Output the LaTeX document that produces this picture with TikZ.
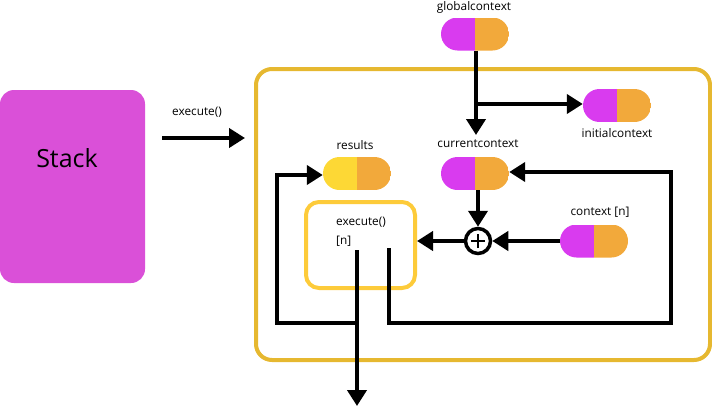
\documentclass[tikz,border=0pt]{standalone}
\usepackage{fontspec}
\setmainfont{Open Sans}
\usetikzlibrary{arrows.meta}
\definecolor{mag}{HTML}{D93BEF}
\definecolor{org}{HTML}{F2A93B}
\definecolor{yel}{HTML}{FDD835}
\definecolor{stackc}{HTML}{DA50D8}
\definecolor{gold}{HTML}{E6B830}
\definecolor{exyel}{HTML}{FDCB3A}
\tikzset{
  pill/.style={minimum width=68pt, minimum height=33pt, inner sep=0pt,
    rounded corners=16.5pt,
    path picture={
      \fill[#1, sharp corners] (path picture bounding box.south west) rectangle (path picture bounding box.north);
      \fill[org, sharp corners] (path picture bounding box.south) rectangle (path picture bounding box.north east);
    }},
  lbl/.style={font=\fontsize{11.8}{13}\selectfont, inner sep=0pt},
  arr/.style={line width=4pt, -{Triangle[length=16pt,width=19pt]}},
}
\begin{document}
\begin{tikzpicture}[x=1pt,y=-1pt]
\useasboundingbox (0,0) rectangle (712,407);
% Stack
\node[fill=stackc, rounded corners=14pt, minimum width=145pt, minimum height=193pt, inner sep=0pt] (stack) at (72.5,186.5) {};
\node[font=\fontsize{25}{28}\selectfont, inner sep=0pt] (stacklbl) at (67,158) {Stack};
% big box
\node[draw=gold, line width=4pt, rounded corners=16pt, minimum width=454pt, minimum height=291pt, inner sep=0pt] (big) at (483,214.5) {};
% execute arrow
\node[lbl] (exlbl) at (197,112) {execute()};
\coordinate (ea) at (162,138);
\coordinate (eb) at (245,138);
\draw[arr] (ea) -- (eb);
% pills
\node[pill=mag] (gc) at (475,34) {};
\node[lbl] (gclbl) at (474,7) {globalcontext};
\node[pill=mag] (ic) at (617,105.5) {};
\node[lbl] (iclbl) at (617,133) {initialcontext};
\node[pill=mag] (cc) at (475,173.5) {};
\node[lbl] (cclbl) at (478,144) {currentcontext};
\node[pill=yel] (res) at (357,173.5) {};
\node[lbl] (reslbl) at (355,145) {results};
\node[pill=mag] (ctx) at (594,241) {};
\node[lbl] (ctxlbl) at (600,212) {context [n]};
% execute box
\node[draw=exyel, line width=4pt, rounded corners=13pt, minimum width=109pt, minimum height=86pt, inner sep=0pt] (exec) at (360.5,245) {};
\node[lbl, anchor=base west] (exectxt) at (336,225) {execute()};
\node[lbl, anchor=base west] (execn) at (336,244) {[n]};
% plus
\node[circle, draw, line width=3.5pt, minimum size=25pt, inner sep=0pt,
  path picture={\draw[line width=2.4pt] ([xshift=-7pt]path picture bounding box.center) -- ([xshift=7pt]path picture bounding box.center);
                \draw[line width=2.4pt] ([yshift=-7pt]path picture bounding box.center) -- ([yshift=7pt]path picture bounding box.center);}] (plus) at (478,241) {};
% connectors
\coordinate (gcb) at (476,135);
\coordinate (br) at (476,104);
\draw[arr] (gc.south -| gcb) -- (gcb);
\draw[arr] (br) -- (br -| ic.west);
\draw[arr] (cc.south -| plus.north) -- (plus.north);
\draw[arr] (ctx.west) -- (plus.east);
\draw[arr] (plus.west) -- (plus.west -| exec.east);
\coordinate (d1) at (357,250);
\coordinate (d2) at (357,323);
\coordinate (d3) at (357,406);
\coordinate (l1) at (277,323);
\coordinate (l2) at (277,175);
\draw[arr] (d1) -- (d3);
\draw[arr] (d2) -- (l1) -- (l2) -- (l2 -| res.west);
\coordinate (r1) at (389,248);
\coordinate (r2) at (389,323);
\coordinate (r3) at (671,323);
\coordinate (r4) at (671,172);
\draw[arr] (r1) -- (r2) -- (r3) -- (r4) -- (r4 -| cc.east);
\end{tikzpicture}
\end{document}
